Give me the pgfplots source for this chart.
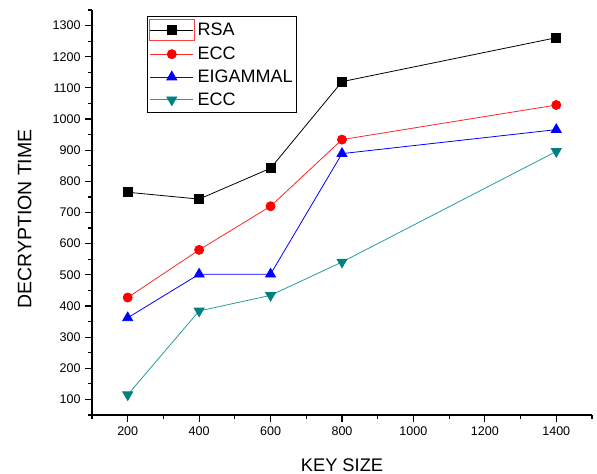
\documentclass[border=0pt]{standalone}
\usepackage{fontspec}
\setmainfont{Liberation Sans}
\usepackage{pgfplots}
\pgfplotsset{compat=1.18}

\definecolor{tealmark}{RGB}{0,128,128}
\definecolor{tealline}{RGB}{40,155,155}
\definecolor{redline}{RGB}{250,40,40}

\begin{document}
\begin{tikzpicture}[x=1pt,y=1pt]
% keep the reference's white margins
\path[use as bounding box] (-69,-44.25) rectangle (378.75,311.25);
\begin{axis}[
    scale only axis,
    width=375pt,
    height=303.75pt,
    at={(0,0)},
    anchor=south west,
    xmin=100, xmax=1500,
    ymin=50, ymax=1350,
    axis lines*=left,
    axis line style={-, line width=1pt},
    tick align=outside,
    major tick length=5pt,
    minor tick length=3pt,
    tick style={line width=0.9pt, black},
    xtick={200,400,...,1400},
    minor xtick={100,300,...,1500},
    ytick={100,200,...,1300},
    minor ytick={50,150,...,1350},
    /pgf/number format/assume math mode=true,
    /pgf/number format/1000 sep={},
    ticklabel style={font=\fontsize{9.4}{11}\selectfont},
    xlabel={KEY SIZE},
    ylabel={DECRYPTION TIME},
    xlabel style={font=\fontsize{13.7}{16}\selectfont,
        at={(axis description cs:0.5,0)}, anchor=base, yshift=-42.5pt},
    ylabel style={font=\fontsize{14.6}{17}\selectfont,
        at={(axis description cs:0,0.484)}, anchor=base, yshift=45.5pt},
    legend cell align=left,
    legend style={at={(0.11,0.985)}, anchor=north west,
        draw=black, line width=0.6pt,
        font=\fontsize{13.5}{16}\selectfont,
        row sep=2.2pt, inner xsep=1pt, inner ysep=2pt},
    legend image code/.code={\draw[mark repeat=2,mark phase=2]
        plot coordinates {(0pt,0pt) (16pt,0pt) (32pt,0pt)};},
]
\addplot[black, line width=0.6pt, mark=square*, mark size=3.3pt,
    mark options={solid, fill=black},
    legend image code/.code={
        \draw[red!75, line width=0.6pt, solid] (-1pt,-8pt) rectangle (33pt,8pt);
        \draw[mark repeat=2,mark phase=2]
        plot coordinates {(0pt,0pt) (16pt,0pt) (32pt,0pt)};}]
coordinates {(200,765) (400,743) (600,842) (800,1120) (1400,1261)};
\addlegendentry{RSA}
\addplot[redline, line width=0.6pt, mark=*, mark size=3.4pt,
    mark options={solid, fill=red, draw=red}]
coordinates {(200,427) (400,580) (600,720) (800,934) (1400,1045)};
\addlegendentry{ECC}
\addplot[blue, line width=0.6pt, mark=triangle*, mark size=4.3pt,
    mark options={solid, fill=blue, draw=blue}]
coordinates {(200,362) (400,502) (600,502) (800,889) (1400,966)};
\addlegendentry{EIGAMMAL}
\addplot[tealline, line width=0.6pt, mark=triangle*, mark size=4.3pt,
    mark options={solid, fill=tealmark, draw=tealmark, rotate=180}]
coordinates {(200,115) (400,384) (600,434) (800,541) (1400,896)};
\addlegendentry{ECC}
\end{axis}
\end{tikzpicture}
\end{document}
